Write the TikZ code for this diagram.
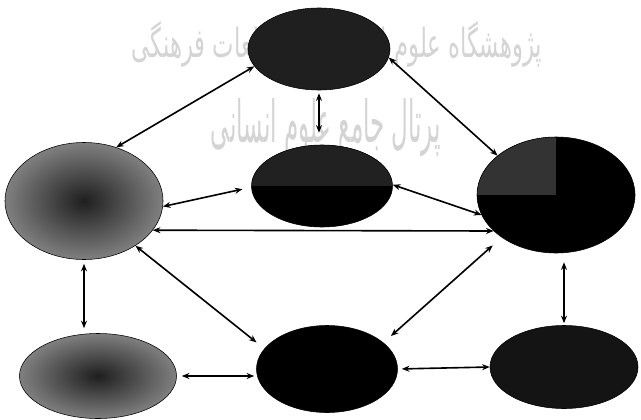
\documentclass[tikz,border=0pt]{standalone}
\usepackage{fontspec}
\usepackage{graphicx}
\usetikzlibrary{arrows.meta,shapes.geometric}
\newfontfamily\arabicfont[Script=Arabic]{DejaVu Sans}
\TeXXeTstate=1

\begin{document}
\begin{tikzpicture}[
    x=0.5mm, y=-0.5mm,
    blob/.style={ellipse, draw=black, line width=0.8pt, inner sep=0pt},
    darkblob/.style={blob, fill=black!88},
    greyblob/.style={blob, shade, inner color=black!88, outer color=black!50},
    arr/.style={{Stealth[length=3.8mm,width=3mm]}-{Stealth[length=3.8mm,width=3mm]}, line width=2.3pt},
    wmark/.style={text=black!17, inner sep=0pt, font=\arabicfont}
]
\useasboundingbox (0,0) rectangle (641,419);

% watermark
\node[wmark] (wm1) at (337,44) {\resizebox{205mm}{18mm}{\beginR پژوهشگاه علوم انسانی و مطالعات فرهنگی\endR}};
\node[wmark] (wm2) at (326,128) {\resizebox{115mm}{22mm}{\beginR پرتال جامع علوم انسانی\endR}};

% ellipses
\node[darkblob, minimum width=71mm, minimum height=41mm] (top) at (319,49) {};
\node[blob, fill=black, minimum width=70.5mm, minimum height=41mm,
      path picture={\fill[black!87] (path picture bounding box.north west) rectangle (path picture bounding box.east);}] (mid) at (322,186) {};
\node[greyblob, minimum width=79mm, minimum height=58.5mm] (lft) at (84,201) {};
\node[blob, fill=black, minimum width=79mm, minimum height=58mm,
      path picture={\fill[black!80] (path picture bounding box.north west) rectangle (path picture bounding box.center);}] (rgt) at (556,195) {};
\node[greyblob, minimum width=78.5mm, minimum height=42.5mm] (botl) at (98,376) {};
\node[blob, fill=black, minimum width=70.5mm, minimum height=43.5mm] (botc) at (327,369) {};
\node[darkblob, fill=black!92, minimum width=74mm, minimum height=41.5mm] (botr) at (564,367) {};

% connections
\draw[arr] (top.195) -- (lft.59);
\draw[arr, shorten <=1.5mm, shorten >=6mm] (top.south) -- (top.south |- mid.north);
\draw[arr] (top.353) -- (rgt.146);

\draw[arr, shorten >=4.5mm] (lft.356) -- (mid.181);
\draw[arr] (mid.1) -- (rgt.195);
\draw[arr] (lft.337) -- (rgt.210);

\draw[arr, shorten >=5mm] (lft.319) -- (botc.162);
\draw[arr, shorten <=6mm, shorten >=5mm] (rgt.218) -- (botc.25);

\draw[arr, shorten <=2mm, shorten >=2.5mm] (lft.south) -- (lft.south |- botl.north);
\draw[arr, shorten <=1mm, shorten >=4.5mm] (botr.north) -- (botr.north |- rgt.south);

\draw[arr, shorten <=2.5mm, shorten >=1mm] (botl.east) -- (botl.east -| botc.west);
\draw[arr, shorten <=2mm] (botc.east) -- (botr.west);

\end{tikzpicture}
\end{document}
